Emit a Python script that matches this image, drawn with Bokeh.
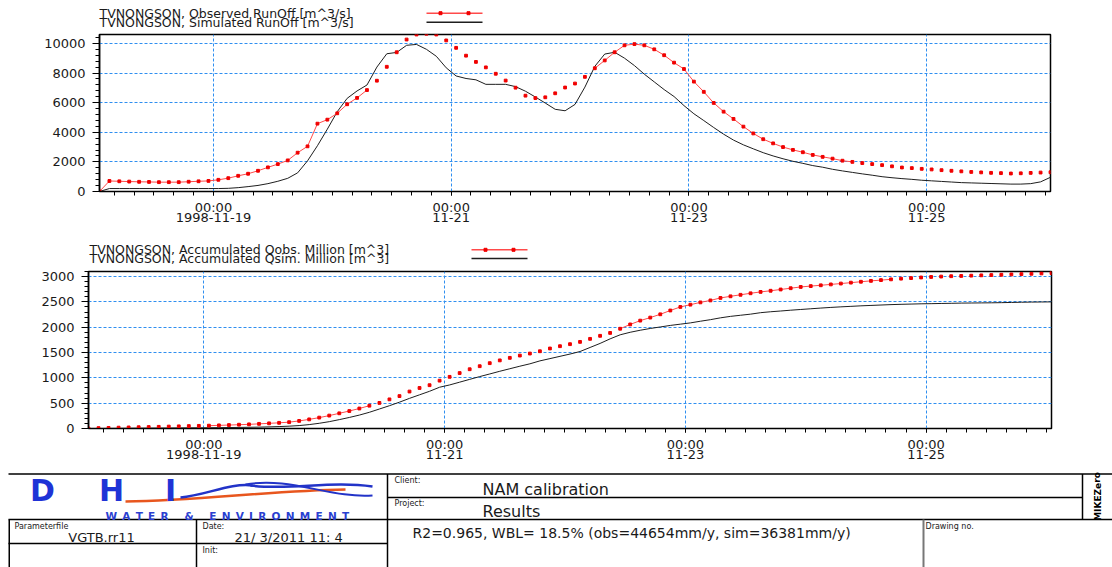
import pandas as pd
from bokeh.plotting import figure
from bokeh.models import (Range1d, FixedTicker, SingleIntervalTicker,
                          CustomJSTickFormatter, ColumnDataSource)
from bokeh.core.properties import value
from bokeh.embed import file_html
from bokeh.resources import INLINE

# ---------------- data (2-hourly values) ----------------
series_start = "1998-11-18 01:00"
series_step = "2h"

obs_runoff = [0, 710, 690, 670, 655, 645, 630, 630, 630, 660, 690, 715,
              790, 900, 1060, 1200, 1400, 1630, 1850, 2100, 2620, 3050, 4580, 4850,
              5280, 5890, 6320, 6850, 7480, 8420, 9400, 10260, 10600, 10650, 10600, 10200,
              9700, 9170, 8750, 8380, 7950, 7490, 7010, 6470, 6310, 6360, 6630, 7020,
              7290, 7740, 8320, 8850, 9400, 9870, 9950, 9870, 9600, 9200, 8700, 8270,
              7420, 6730, 5980, 5390, 4900, 4380, 3920, 3530, 3250, 3000, 2810, 2650,
              2470, 2340, 2220, 2080, 2000, 1920, 1850, 1780, 1700, 1620, 1580, 1530,
              1490, 1440, 1400, 1360, 1320, 1290, 1260, 1240, 1215, 1230, 1255, 1280,
              1300]

sim_runoff = [0, 200, 200, 200, 200, 200, 200, 200, 200, 200, 200, 200,
              200, 215, 260, 330, 410, 530, 690, 890, 1260, 2070, 3090, 4210,
              5390, 6290, 6790, 7190, 8400, 9300, 9390, 9870, 9930, 9600, 9130, 8350,
              7800, 7630, 7540, 7235, 7235, 7235, 7080, 6770, 6380, 5970, 5550, 5450,
              5880, 7050, 8450, 9280, 9400, 9000, 8500, 7920, 7400, 6880, 6410, 5800,
              5250, 4790, 4320, 3870, 3470, 3150, 2880, 2620, 2400, 2210, 2040, 1900,
              1750, 1640, 1500, 1390, 1290, 1190, 1100, 1000, 930, 870, 820, 760,
              720, 680, 640, 600, 580, 560, 540, 520, 500, 500, 530, 650,
              960]

obs_acc = [0, 8, 12, 17, 21, 25, 29, 33, 38, 43, 48, 52,
           56, 62, 68, 75, 82, 92, 102, 112, 125, 150, 180, 215,
           255, 300, 345, 395, 450, 505, 575, 640, 730, 800, 855, 945,
           1020, 1095, 1170, 1230, 1290, 1345, 1395, 1440, 1480, 1525, 1580, 1625,
           1665, 1710, 1770, 1830, 1887, 1970, 2055, 2130, 2190, 2255, 2330, 2400,
           2445, 2490, 2529, 2578, 2610, 2640, 2670, 2697, 2720, 2745, 2770, 2795,
           2812, 2828, 2845, 2862, 2880, 2898, 2915, 2930, 2945, 2958, 2970, 2982,
           2992, 3000, 3007, 3012, 3018, 3024, 3030, 3036, 3042, 3048, 3055, 3062,
           3070]

sim_acc = [0, 1, 2, 4, 5, 7, 8, 9, 10, 12, 13, 14,
           15, 17, 19, 21, 24, 27, 32, 38, 46, 58, 77, 103,
           135, 175, 218, 265, 320, 385, 450, 520, 595, 665, 735, 815,
           860, 915, 970, 1025, 1077, 1130, 1180, 1230, 1277, 1335, 1380, 1425,
           1470, 1520, 1600, 1680, 1770, 1850, 1900, 1940, 1975, 2005, 2035, 2060,
           2085, 2118, 2149, 2185, 2214, 2236, 2258, 2287, 2305, 2320, 2336, 2350,
           2364, 2378, 2391, 2402, 2412, 2422, 2430, 2438, 2446, 2452, 2457, 2462,
           2465, 2469, 2472, 2476, 2478, 2480, 2482, 2485, 2489, 2493, 2496, 2498,
           2500]

# periods in which the observed record is drawn as a connected line (elsewhere: points only)
obs_line_spans_top = [("1998-11-18 01:00", "1998-11-20 08:00"),
                      ("1998-11-22 04:00", "1998-11-24 10:00")]
obs_line_spans_bottom = [("1998-11-19 01:00", "1998-11-20 10:00"),
                         ("1998-11-22 10:00", "1998-11-24 18:00")]

x_start, x_end = "1998-11-18 01:00", "1998-11-26 01:00"
x_major = ["1998-11-19", "1998-11-21", "1998-11-23", "1998-11-25"]
x_major_labels = ["00:00\n1998-11-19", "00:00\n11-21", "00:00\n11-23", "00:00\n11-25"]
x_minor_start, x_minor_end, x_minor_step = "1998-11-18 04:00", "1998-11-26 00:00", "4h"

legend_top = ["TVNONGSON, Observed RunOff [m^3/s]",
              "TVNONGSON, Simulated RunOff [m^3/s]"]
legend_bottom = ["TVNONGSON, Accumulated Qobs. Million [m^3]",
                 "TVNONGSON, Accumulated Qsim. Million [m^3]"]

# ---------------- styling ----------------
W = 1112
FONT = "DejaVu Sans"
RED_LINE = "#ff4a4a"
RED_MARK = "#f00000"
BLACK = "#1e1e1e"
GRID = "#2f8ff0"

times = pd.date_range(series_start, periods=len(obs_runoff), freq=series_step)
major_ms = [int(pd.Timestamp(d).value // 10**6) for d in x_major]
minor_ms = [int(v // 10**6) for v in
            pd.date_range(x_minor_start, x_minor_end, freq=x_minor_step).asi8]


def masked(vals, spans):
    out = []
    for t, v in zip(times, vals):
        inside = any(pd.Timestamp(a) <= t <= pd.Timestamp(b) for a, b in spans)
        out.append(v if inside else float("nan"))
    return out


def blank(h):
    p = figure(width=W, height=h, x_range=Range1d(0, W), y_range=Range1d(h, 0),
               x_axis_type=None, y_axis_type=None, output_backend="svg",
               toolbar_location=None, min_border=0, outline_line_color=None)
    p.grid.visible = False
    p.background_fill_color = "white"
    p.border_fill_color = "white"
    return p


def legend_fig(h, labels, tx, ys, lx0, lx1):
    p = blank(h)
    p.text(x=[tx, tx], y=ys, text=labels, text_font=value(FONT),
           text_font_size="12.5px", text_baseline="middle", text_color="#1a1a1a")
    p.segment(x0=[lx0], y0=[ys[0]], x1=[lx1], y1=[ys[0]], line_color=RED_LINE, line_width=1.5)
    p.segment(x0=[lx0], y0=[ys[1]], x1=[lx1], y1=[ys[1]], line_color=BLACK, line_width=1.5)
    p.scatter(x=[lx0 + 14, lx0 + 42], y=[ys[0], ys[0]], marker="square", size=3,
              color=RED_MARK)
    return p


def chart(obs, sim, spans, ymax, interval, left, right, top, fh, bottom):
    src = ColumnDataSource(dict(t=times, obs=obs, sim=sim, obs_line=masked(obs, spans)))
    p = figure(width=W, height=top + fh + bottom, x_axis_type="datetime",
               x_range=Range1d(pd.Timestamp(x_start), pd.Timestamp(x_end)),
               y_range=Range1d(0, ymax), output_backend="svg", toolbar_location=None,
               min_border_left=left, min_border_right=right,
               min_border_top=top, min_border_bottom=bottom)
    p.background_fill_color = "white"
    p.border_fill_color = "white"
    p.outline_line_color = "black"
    p.outline_line_width = 1.5

    p.xaxis.ticker = FixedTicker(ticks=major_ms, minor_ticks=minor_ms)
    p.xaxis.formatter = CustomJSTickFormatter(
        args=dict(major=major_ms, labels=x_major_labels),
        code="const i = major.indexOf(tick); return i >= 0 ? labels[i] : '';")
    p.yaxis.ticker = SingleIntervalTicker(interval=interval, num_minor_ticks=5)

    for g in (p.xgrid, p.ygrid):
        g.grid_line_color = GRID
        g.grid_line_dash = "3 2"
        g.grid_line_width = 1

    p.axis.axis_line_color = "black"
    p.yaxis.axis_line_width = 1.5
    p.axis.major_tick_line_color = "black"
    p.axis.minor_tick_line_color = "black"
    p.axis.major_tick_in = 0
    p.axis.minor_tick_in = 0
    p.xaxis.major_tick_out = 4
    p.xaxis.minor_tick_out = 4
    p.yaxis.major_tick_out = 7
    p.yaxis.minor_tick_out = 4
    p.axis.major_label_text_font = FONT
    p.axis.major_label_text_font_size = "13px"
    p.axis.major_label_text_color = "#1a1a1a"
    p.xaxis.major_label_text_line_height = 0.68
    p.xaxis.major_label_standoff = 4
    p.yaxis.major_label_standoff = 7

    p.line("t", "sim", source=src, line_color=BLACK, line_width=1)
    p.line("t", "obs_line", source=src, line_color=RED_LINE, line_width=1)
    p.scatter("t", "obs", source=src, marker="square", size=2.8, color=RED_MARK)
    return p


legA = legend_fig(32, legend_top, 99, [12.7, 21.7], 426, 482)
figA = chart(obs_runoff, sim_runoff, obs_line_spans_top, 10600, 2000, 99, 62, 2, 157, 47)
legB = legend_fig(30, legend_bottom, 89, [11.3, 20.0], 471, 527)
figB = chart(obs_acc, sim_acc, obs_line_spans_bottom, 3100, 500, 88, 61, 3, 157, 42)

# ---------------- title block (footer), coordinates in page pixels ----------------
FH = 97
foot = blank(FH)
foot.segment(x0=[8, 8, 387, 8], y0=[3.5, 49, 27, 73], x1=[W, W, 1082, 387], y1=[3.5, 49, 27, 73],
             line_color="black", line_width=1.5)
foot.segment(x0=[387, 1082, 196, 8.75], y0=[3.5, 3.5, 49, 49], x1=[387, 1082, 196, 8.75],
             y1=[FH, 49, FH, FH], line_color="black", line_width=1.5)
foot.segment(x0=[923], y0=[49], x1=[923], y1=[FH], line_color="#777777", line_width=2)

# DHI logo
foot.bezier(x0=[125, 180, 250], y0=[31, 27, 15],
            x1=[345, 252, 372], y1=[19, 15, 16],
            cx0=[200, 205, 290], cy0=[30, 25, 20],
            cx1=[270, 230, 330], cy1=[20, 12, 10],
            line_color=["#e8561e", "#2233c8", "#2233c8"], line_width=2.5)
foot.bezier(x0=[245], y0=[14], x1=[372], y1=[25],
            cx0=[290], cy0=[6], cx1=[330], cy1=[28],
            line_color="#2233c8", line_width=2)
foot.text(x=[42, 111, 170], y=[20, 20, 20], text=["D", "H", "I"],
          text_font=value(FONT), text_font_style="bold", text_font_size="30px",
          text_color="#1f33d6", text_align="center", text_baseline="middle")
foot.text(x=[105], y=[45], text=["W\u2002A\u2002T\u2002E\u2002R\u2002\u2002\u2002&\u2002\u2002\u2002"
                               "E\u2002N\u2002V\u2002I\u2002R\u2002O\u2002N\u2002M\u2002E\u2002N\u2002T"],
          text_font=value(FONT), text_font_style="bold", text_font_size="10.5px",
          text_color="#2a3fd0", text_baseline="middle")

small = dict(text_font=value(FONT), text_font_size="8px", text_color="#1a1a1a",
             text_baseline="middle")
foot.text(x=[394, 394, 14, 202, 202, 925], y=[10, 33, 56, 56, 80, 56],
          text=["Client:", "Project:", "Parameterfile", "Date:", "Init:", "Drawing no."], **small)
foot.text(x=[482, 482], y=[19, 41], text=["NAM calibration", "Results"],
          text_font=value(FONT), text_font_size="16px", text_color="#1a1a1a",
          text_baseline="middle")
foot.text(x=[101], y=[67], text=["VGTB.rr11"], text_font=value(FONT), text_font_size="13px",
          text_color="#1a1a1a", text_baseline="middle", text_align="center")
foot.text(x=[234], y=[67], text=["21/ 3/2011 11: 4"], text_font=value(FONT),
          text_font_size="13px", text_color="#1a1a1a", text_baseline="middle")
foot.text(x=[412], y=[62], text=["R2=0.965, WBL= 18.5% (obs=44654mm/y, sim=36381mm/y)"],
          text_font=value(FONT), text_font_size="14px", text_color="#1a1a1a",
          text_baseline="middle")
foot.text(x=[1097], y=[26], text=["MIKEZero"], angle=[1.5708], text_font=value(FONT),
          text_font_style="bold", text_font_size="9px", text_color="black",
          text_align="center", text_baseline="middle")

open("out.html", "w").write(file_html([legA, figA, legB, figB, foot], INLINE))
